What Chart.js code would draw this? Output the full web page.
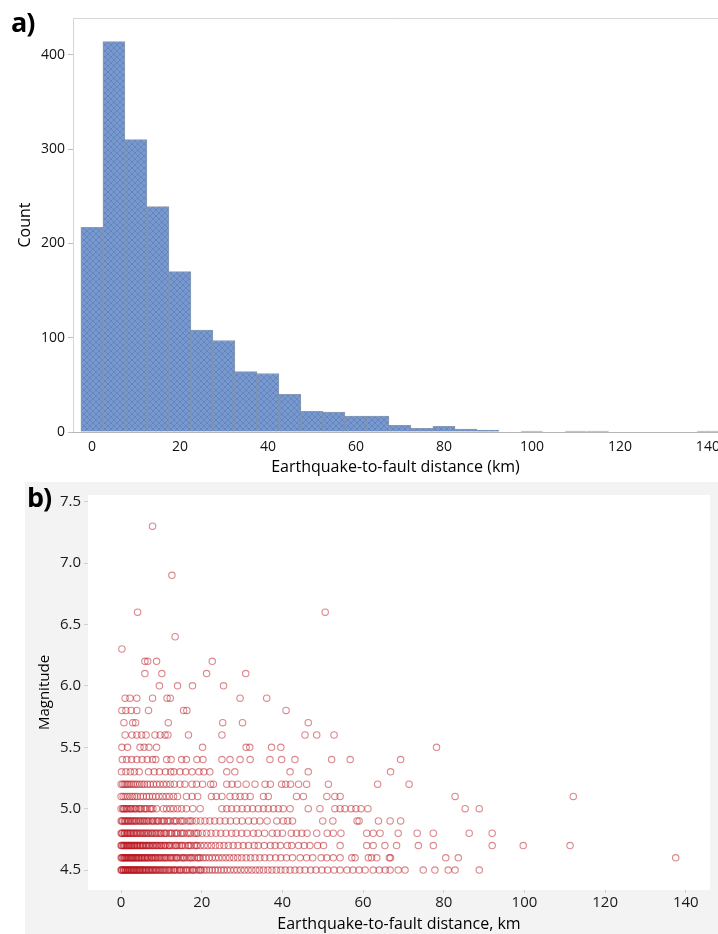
<!DOCTYPE html>
<html>
<head>
<meta charset="utf-8">
<script src="https://cdn.jsdelivr.net/npm/chart.js@4.4.1/dist/chart.umd.min.js"></script>
<style>
    body { margin: 0; background: #fff; width: 718px; height: 934px; position: relative; overflow: hidden; font-family: 'Open Sans', sans-serif; }
    #histWrap { position: absolute; left: 0; top: 0; width: 718px; height: 480px; }
    #scatWrap { position: absolute; left: 25px; top: 482px; width: 693px; height: 452px; background: #f3f3f3; }
    .panel-label { position: absolute; font-family: 'Open Sans', sans-serif; font-weight: 700; font-size: 27px; line-height: 27px; letter-spacing: -1px; color: #000; }
</style>
</head>
<body>
<div id="histWrap"><canvas id="histChart" width="718" height="480"></canvas></div>
<div id="scatWrap"><canvas id="scatChart" width="693" height="452"></canvas></div>
<div class="panel-label" style="left:11px;top:8px;">a)</div>
<div class="panel-label" style="left:27px;top:483px;">b)</div>
<script>
(function () {
    'use strict';

    // ---- a) histogram: 5 km bins centred on multiples of 5
    const binCenters = [0, 5, 10, 15, 20, 25, 30, 35, 40, 45, 50, 55, 60, 65, 70, 75, 80, 85, 90, 95, 100, 105, 110, 115, 120, 125, 130, 135, 140];
    const binCounts = [217, 414, 310, 239, 170, 108, 97, 64, 62, 40, 22, 21, 17, 17, 7, 4, 6, 3, 2, 0, 1, 0, 1, 1, 0, 0, 0, 0, 1];
    const histXTicks = [0, 20, 40, 60, 80, 100, 120, 140];
    const histYTicks = [0, 100, 200, 300, 400];

    // ---- b) magnitude vs distance, one list of distances per magnitude level
    const d45 = [0.0, 0.2, 0.5, 0.7, 1.0, 1.2, 1.5, 1.8, 2.0, 2.3, 2.6, 2.9, 3.1, 3.4, 3.7, 4.0, 4.3, 4.5, 4.8, 5.1, 5.4, 5.7, 6.0, 6.3, 6.7, 7.0, 7.3, 7.7, 8.0, 8.4, 8.8, 9.1, 9.5, 9.9, 10.3, 10.8, 11.2, 11.6, 12.1, 12.5, 13.0, 13.4, 13.9, 14.4, 14.9, 15.4, 15.9, 16.5, 17.0, 17.6, 18.1, 18.7, 19.3, 19.9, 20.6, 21.2, 21.9, 22.6, 23.3, 24.0, 24.8, 25.5, 26.3, 27.1, 28.0, 28.8, 29.7, 30.6, 31.5, 32.4, 33.4, 34.3, 35.3, 36.4, 37.4, 38.5, 39.6, 40.7, 41.9, 43.1, 44.3, 45.6, 47.0, 48.3, 49.8, 51.2, 52.8, 54.3, 56.0, 57.5, 59.0, 60.5, 62.5, 64.0, 65.5, 66.7, 68.7, 70.4, 74.9, 77.8, 81.1, 82.8, 88.8,
        0.1, 0.6, 1.1, 1.6, 2.2, 2.7, 3.3, 3.9, 4.6, 5.3, 6.1, 6.9, 7.8, 8.6, 9.7, 10.6, 11.9, 13.2, 14.6, 16.2, 17.8, 19.6];
    const d46 = [0.0, 0.3, 0.6, 0.9, 1.1, 1.4, 1.7, 2.0, 2.3, 2.6, 2.9, 3.2, 3.5, 3.8, 4.1, 4.4, 4.7, 5.0, 5.3, 5.7, 6.0, 6.4, 6.7, 7.1, 7.5, 7.8, 8.2, 8.6, 9.0, 9.4, 9.9, 10.3, 10.7, 11.2, 11.6, 12.1, 12.6, 13.1, 13.6, 14.1, 14.7, 15.2, 15.8, 16.4, 17.0, 17.6, 18.2, 18.9, 19.6, 20.3, 21.0, 21.8, 22.6, 23.4, 24.2, 25.1, 26.0, 26.9, 27.9, 28.9, 29.9, 31.0, 32.1, 33.2, 34.4, 35.6, 36.9, 38.3, 39.6, 41.0, 42.5, 44.4, 46.0, 47.5, 49.6, 51.0, 52.6, 54.3, 57.2, 58.0, 61.3, 62.1, 63.4, 66.5, 66.8, 80.5, 83.6, 137.5,
        0.2, 0.8, 1.3, 1.9, 2.5, 3.0, 3.7, 4.3, 5.1, 5.9, 6.6, 7.6, 8.5, 9.6, 10.9, 12.3, 13.8, 15.5, 17.3, 19.2];
    const d47 = [0.0, 0.3, 0.6, 0.9, 1.2, 1.5, 1.8, 2.1, 2.4, 2.8, 3.1, 3.4, 3.8, 4.1, 4.5, 4.9, 5.2, 5.6, 6.0, 6.4, 6.8, 7.2, 7.7, 8.1, 8.6, 9.0, 9.5, 10.0, 10.5, 11.0, 11.6, 12.1, 12.7, 13.3, 13.9, 14.5, 15.2, 15.9, 16.6, 17.3, 18.1, 18.9, 19.7, 20.6, 21.5, 22.4, 23.4, 24.4, 25.5, 26.6, 27.8, 29.0, 30.3, 31.6, 33.0, 34.0, 35.5, 37.0, 38.2, 39.5, 41.2, 42.3, 44.0, 45.4, 46.8, 48.7, 50.2, 54.3, 60.9, 62.5, 65.4, 68.3, 73.7, 77.4, 92.0, 99.7, 111.3,
        0.1, 0.7, 1.4, 2.0, 2.6, 3.3, 4.0, 4.7, 5.4, 6.2, 7.0, 7.9, 8.8, 9.8, 10.8, 12.0, 13.6, 15.0, 16.9, 18.6];
    const d48 = [0.0, 0.3, 0.7, 1.0, 1.4, 1.7, 2.1, 2.5, 2.9, 3.3, 3.7, 4.1, 4.5, 5.0, 5.4, 5.9, 6.3, 6.8, 7.3, 7.8, 8.3, 8.9, 9.4, 10.0, 10.6, 11.2, 11.9, 12.6, 13.3, 14.0, 14.8, 15.6, 16.4, 17.3, 18.2, 19.1, 20.1, 21.2, 22.3, 23.5, 24.7, 26.0, 27.4, 28.5, 29.9, 31.2, 32.8, 34.0, 35.6, 37.5, 38.7, 40.0, 42.2, 43.5, 44.8, 46.1, 48.5, 51.1, 52.6, 54.5, 60.9, 62.5, 64.2, 68.7, 73.4, 77.4, 86.3, 92.0,
        0.2, 0.9, 1.6, 2.3, 3.1, 3.9, 4.8, 5.7, 6.6, 7.6, 8.6, 9.7, 10.9, 12.3, 13.7, 15.2, 16.9, 18.7];
    const d49 = [0.0, 0.4, 0.8, 1.2, 1.6, 2.0, 2.4, 2.9, 3.3, 3.8, 4.3, 4.8, 5.3, 5.8, 6.3, 6.9, 7.5, 8.1, 8.7, 9.3, 10.0, 10.7, 11.4, 12.2, 13.0, 13.8, 14.7, 15.6, 16.6, 17.6, 18.6, 19.7, 20.8, 22.0, 23.2, 24.5, 25.8, 27.1, 28.6, 30.0, 31.6, 33.0, 34.4, 36.2, 38.6, 40.2, 41.3, 42.5, 50.0, 52.5, 58.5, 59.0, 63.8, 66.7, 69.3,
        0.2, 1.0, 1.8, 2.7, 3.6, 4.6, 5.6, 6.6, 7.8, 9.0, 10.4, 11.8, 13.4, 15.1, 17.1];
    const d50 = [0.0, 0.4, 0.8, 1.2, 1.7, 2.2, 2.7, 3.2, 3.8, 4.4, 5.0, 5.7, 6.4, 7.1, 7.9, 8.8, 10.5, 11.3, 12.2, 13.0, 14.0, 15.0, 16.2, 17.8, 19.6, 25.0, 26.2, 27.4, 28.7, 30.0, 31.3, 32.6, 34.0, 35.3, 36.5, 37.8, 39.0, 40.2, 41.9, 46.4, 49.3, 53.0, 54.3, 55.5, 57.0, 58.2, 59.5, 61.2, 85.3, 88.8,
        0.6, 1.4, 2.4, 3.5, 4.7, 6.0, 7.5];
    const d51 = [0.0, 0.5, 1.0, 1.6, 2.2, 2.8, 3.4, 4.0, 4.8, 5.5, 6.3, 7.0, 7.8, 8.6, 9.4, 10.3, 11.2, 12.0, 13.0, 14.0, 16.2, 17.6, 19.0, 22.4, 23.6, 25.0, 27.0, 28.3, 29.5, 30.7, 32.0, 35.3, 36.5, 43.5, 45.2, 51.0, 53.0, 54.3, 82.8, 112.1];
    const d52 = [0.0, 0.4, 0.8, 1.2, 1.6, 2.0, 2.5, 3.0, 3.5, 4.0, 4.6, 5.2, 5.8, 6.5, 7.2, 8.0, 8.8, 9.6, 10.5, 11.3, 12.2, 13.2, 14.6, 15.8, 17.6, 18.7, 20.2, 22.2, 22.9, 26.2, 27.5, 28.9, 31.0, 33.2, 35.7, 37.0, 39.8, 40.8, 42.0, 44.0, 46.0, 51.4, 63.6, 71.4];
    const d53 = [0.1, 1.2, 2.3, 3.3, 4.5, 6.8, 8.2, 9.5, 11.0, 12.3, 13.1, 14.6, 16.0, 17.6, 19.3, 20.5, 22.0, 26.2, 28.2, 41.9, 46.4, 66.8];
    const d54 = [0.3, 1.4, 2.6, 3.9, 5.2, 6.5, 7.8, 8.6, 11.3, 12.4, 15.0, 16.2, 18.8, 20.3, 25.0, 27.0, 29.5, 32.0, 36.9, 39.8, 43.1, 52.2, 56.8, 69.3];
    const d55 = [0.2, 1.6, 4.7, 5.7, 6.9, 8.8, 20.2, 31.0, 31.9, 37.3, 39.6, 78.2];
    const d56 = [1.0, 2.7, 3.9, 5.1, 6.2, 8.4, 9.7, 10.9, 11.6, 16.7, 25.0, 45.6, 48.5, 52.8];
    const d57 = [0.7, 2.9, 3.6, 11.7, 25.2, 30.1, 46.4];
    const d58 = [0.2, 1.2, 2.5, 3.9, 6.8, 15.5, 16.3, 40.9];
    const d59 = [1.0, 2.2, 3.9, 7.8, 11.4, 12.2, 29.5, 36.1];
    const d60 = [9.5, 14.0, 17.7, 25.4];
    const d61 = [5.9, 10.1, 21.2, 30.9];
    const d62 = [5.9, 6.6, 8.8, 22.6];
    const d63 = [0.2];
    const d64 = [13.4];
    const d66 = [4.1, 50.6];
    const d69 = [12.6];
    const d73 = [7.8];

    const magnitudeRows = [
        [4.5, d45], [4.6, d46], [4.7, d47], [4.8, d48], [4.9, d49], [5.0, d50],
        [5.1, d51], [5.2, d52], [5.3, d53], [5.4, d54], [5.5, d55], [5.6, d56],
        [5.7, d57], [5.8, d58], [5.9, d59], [6.0, d60], [6.1, d61], [6.2, d62],
        [6.3, d63], [6.4, d64], [6.6, d66], [6.9, d69], [7.3, d73]
    ];
    const scatXTicks = [0, 20, 40, 60, 80, 100, 120, 140];
    const scatYTicks = [4.5, 5.0, 5.5, 6.0, 6.5, 7.0, 7.5];

    const tickFont = { family: "'Open Sans', sans-serif", size: 14 };
    const titleFont = { family: "'Open Sans', sans-serif", size: 16 };

    function hatchPattern() {
        const c = document.createElement('canvas');
        c.width = 6;
        c.height = 6;
        const g = c.getContext('2d');
        g.fillStyle = '#7799d0';
        g.fillRect(0, 0, 6, 6);
        g.strokeStyle = 'rgba(70, 100, 155, 0.35)';
        g.lineWidth = 1;
        g.beginPath();
        g.moveTo(0, 0); g.lineTo(6, 6);
        g.moveTo(6, 0); g.lineTo(0, 6);
        g.stroke();
        return g.createPattern(c, 'repeat');
    }

    function fixTicks(values) {
        return function (scale) {
            scale.ticks = values.map(function (v) { return { value: v }; });
        };
    }

    function noPad(size, isWidth) {
        return function (scale) {
            if (isWidth) scale.width = size; else scale.height = size;
            scale.paddingLeft = 0;
            scale.paddingRight = 0;
            scale.paddingTop = 0;
            scale.paddingBottom = 0;
        };
    }

    const histFrame = {
        id: 'histFrame',
        afterDraw: function (chart) {
            const a = chart.chartArea;
            const ctx = chart.ctx;
            ctx.save();
            ctx.strokeStyle = '#d6d6d6';
            ctx.lineWidth = 1;
            ctx.beginPath();
            ctx.moveTo(a.left + 0.5, a.bottom);
            ctx.lineTo(a.left + 0.5, a.top + 0.5);
            ctx.lineTo(a.right, a.top + 0.5);
            ctx.stroke();
            ctx.restore();
        }
    };

    new Chart(document.getElementById('histChart'), {
        type: 'bar',
        data: {
            datasets: [{
                data: binCenters.map(function (x, i) { return { x: x, y: binCounts[i] }; }),
                backgroundColor: hatchPattern(),
                borderColor: 'rgba(60, 85, 125, 0.6)',
                borderWidth: 1,
                barPercentage: 1,
                categoryPercentage: 1
            }]
        },
        options: {
            responsive: false,
            animation: false,
            layout: { padding: { top: 18, left: 0, right: 0, bottom: 0 } },
            plugins: { legend: { display: false }, tooltip: { enabled: false } },
            scales: {
                x: {
                    type: 'linear',
                    offset: false,
                    min: -4.3,
                    max: 142.3,
                    afterBuildTicks: fixTicks(histXTicks),
                    afterFit: noPad(48, false),
                    grid: { display: true, offset: false, drawOnChartArea: false, drawTicks: false },
                    border: { display: true, color: '#b5b5b5' },
                    ticks: { color: '#111', font: tickFont, padding: 7, maxRotation: 0 },
                    title: { display: true, text: 'Earthquake-to-fault distance (km)', color: '#000', font: titleFont, padding: { top: 0, bottom: 3 } }
                },
                y: {
                    min: 0,
                    max: 439,
                    afterBuildTicks: fixTicks(histYTicks),
                    afterFit: noPad(73, true),
                    grid: { display: true, drawOnChartArea: false, drawTicks: true, tickLength: 5, color: '#bdbdbd' },
                    border: { display: false },
                    ticks: { color: '#111', font: tickFont, padding: 3 },
                    title: { display: true, text: 'Count', color: '#000', font: titleFont, padding: { top: 16, bottom: 0 } }
                }
            }
        },
        plugins: [histFrame]
    });

    const scatterPoints = [];
    magnitudeRows.forEach(function (row) {
        row[1].forEach(function (d) { scatterPoints.push({ x: d, y: row[0] }); });
    });

    const whiteArea = {
        id: 'whiteArea',
        beforeDraw: function (chart) {
            const a = chart.chartArea;
            chart.ctx.save();
            chart.ctx.fillStyle = '#ffffff';
            chart.ctx.fillRect(a.left, a.top, a.right - a.left, a.bottom - a.top);
            chart.ctx.restore();
        }
    };

    new Chart(document.getElementById('scatChart'), {
        type: 'scatter',
        data: {
            datasets: [{
                data: scatterPoints,
                pointStyle: 'circle',
                pointRadius: 3.2,
                pointBorderWidth: 1.1,
                pointBackgroundColor: 'rgba(0,0,0,0)',
                pointBorderColor: 'rgba(185, 20, 30, 0.5)'
            }]
        },
        options: {
            responsive: false,
            animation: false,
            layout: { padding: { top: 13, left: 0, right: 8, bottom: 0 } },
            plugins: { legend: { display: false }, tooltip: { enabled: false } },
            scales: {
                x: {
                    type: 'linear',
                    min: -8.2,
                    max: 146,
                    afterBuildTicks: fixTicks(scatXTicks),
                    afterFit: noPad(44, false),
                    grid: { display: true, drawOnChartArea: false, drawTicks: true, tickLength: 3, color: '#d0d0d0' },
                    border: { display: false },
                    ticks: { color: '#1a1a1a', font: { family: "'Open Sans', sans-serif", size: 15 }, padding: 1, maxRotation: 0 },
                    title: { display: true, text: 'Earthquake-to-fault distance, km', color: '#000', font: titleFont, padding: { top: 0, bottom: 0 } }
                },
                y: {
                    min: 4.338,
                    max: 7.554,
                    afterBuildTicks: fixTicks(scatYTicks),
                    afterFit: noPad(63, true),
                    grid: { display: true, drawOnChartArea: false, drawTicks: true, tickLength: 4, color: '#d0d0d0' },
                    border: { display: false },
                    ticks: {
                        color: '#1a1a1a',
                        font: { family: "'Open Sans', sans-serif", size: 15 },
                        padding: 3,
                        callback: function (v) { return Number(v).toFixed(1); }
                    },
                    title: { display: true, text: 'Magnitude', color: '#000', font: { family: "'Open Sans', sans-serif", size: 15 }, padding: { top: 11, bottom: 0 } }
                }
            }
        },
        plugins: [whiteArea]
    });
})();
</script>
</body>
</html>
